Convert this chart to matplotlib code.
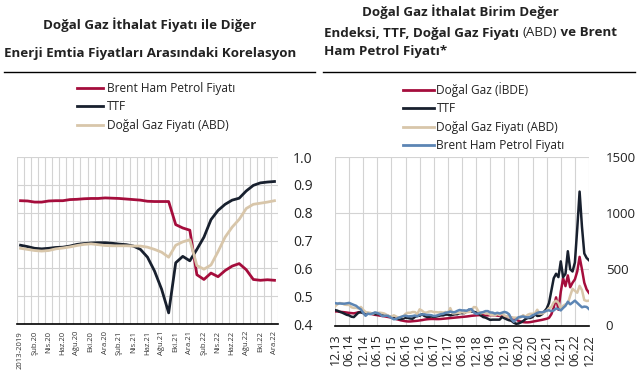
"""
Doğal gaz ithalat fiyatı - korelasyon ve endeks grafikleri
"""

import numpy as np
import matplotlib
matplotlib.use("Agg")
import matplotlib.pyplot as plt
from matplotlib.lines import Line2D
from matplotlib.ticker import FormatStrFormatter

plt.rcParams['font.family'] = ['Open Sans', 'DejaVu Sans']

# ---- left panel data (korelasyon) ----
left_categories = ['2013-2019',
                   'Oca.20', 'Şub.20', 'Mar.20', 'Nis.20', 'May.20', 'Haz.20',
                   'Tem.20', 'Ağu.20', 'Eyl.20', 'Eki.20', 'Kas.20', 'Ara.20',
                   'Oca.21', 'Şub.21', 'Mar.21', 'Nis.21', 'May.21', 'Haz.21',
                   'Tem.21', 'Ağu.21', 'Eyl.21', 'Eki.21', 'Kas.21', 'Ara.21',
                   'Oca.22', 'Şub.22', 'Mar.22', 'Nis.22', 'May.22', 'Haz.22',
                   'Tem.22', 'Ağu.22', 'Eyl.22', 'Eki.22', 'Kas.22', 'Ara.22']
corr_brent = [0.843, 0.842, 0.838, 0.838, 0.842, 0.843, 0.843, 0.847, 0.848,
              0.850, 0.851, 0.851, 0.853, 0.852, 0.851, 0.849, 0.847, 0.845,
              0.841, 0.840, 0.840, 0.840, 0.757, 0.745, 0.737, 0.577, 0.560,
              0.583, 0.570, 0.592, 0.608, 0.617, 0.595, 0.560, 0.557, 0.559,
              0.557]
corr_ttf = [0.683, 0.678, 0.672, 0.670, 0.672, 0.675, 0.676, 0.680, 0.686,
            0.689, 0.691, 0.692, 0.692, 0.690, 0.687, 0.685, 0.680, 0.668,
            0.640, 0.590, 0.525, 0.440, 0.620, 0.643, 0.627, 0.668, 0.712,
            0.775, 0.808, 0.830, 0.845, 0.852, 0.878, 0.898, 0.907, 0.910,
            0.912]
corr_usgas = [0.672, 0.668, 0.664, 0.662, 0.664, 0.670, 0.673, 0.677, 0.682,
              0.686, 0.688, 0.685, 0.682, 0.681, 0.681, 0.681, 0.680, 0.680,
              0.676, 0.668, 0.658, 0.640, 0.683, 0.695, 0.703, 0.610, 0.597,
              0.612, 0.660, 0.712, 0.748, 0.776, 0.815, 0.830, 0.834, 0.838,
              0.843]

# ---- right panel data (endeks, aylık 12.13 - 12.22) ----
right_ticklabels = ['12.13', '06.14', '12.14', '06.15', '12.15', '06.16',
                    '12.16', '06.17', '12.17', '06.18', '12.18', '06.19',
                    '12.19', '06.20', '12.20', '06.21', '12.21', '06.22',
                    '12.22']
gas_import = [125,
              125, 122, 120, 118, 115, 112, 110, 108, 112, 118, 120, 118,
              112, 110, 105, 100, 95, 92, 88, 85, 82, 78, 74, 70,
              65, 58, 52, 46, 42, 38, 36, 36, 38, 40, 42, 45,
              48, 52, 55, 57, 58, 58, 57, 57, 58, 60, 62, 64,
              66, 68, 70, 72, 74, 76, 78, 80, 83, 86, 88, 90,
              92, 92, 90, 90, 90, 92, 92, 90, 88, 85, 82, 80,
              78, 75, 70, 62, 52, 42, 35, 30, 28, 28, 30, 34,
              38, 42, 46, 50, 55, 60, 68, 100, 160, 250, 140, 300,
              420, 350, 445, 340, 380, 410, 480, 610, 500, 380, 320, 290]
ttf = [137,
       132, 122, 115, 105, 95, 90, 78, 75, 95, 115, 118, 110,
       102, 110, 107, 105, 102, 102, 102, 97, 95, 90, 82, 75,
       65, 59, 60, 57, 62, 70, 67, 62, 60, 77, 85, 87,
       100, 85, 77, 77, 80, 77, 80, 85, 90, 90, 97, 97,
       90, 95, 100, 100, 110, 110, 110, 125, 140, 125, 122, 115,
       105, 90, 75, 70, 60, 50, 52, 52, 52, 52, 75, 65,
       55, 47, 42, 25, 15, 18, 27, 40, 57, 67, 67, 75,
       100, 85, 87, 100, 125, 150, 200, 310, 420, 460, 430, 570,
       430, 460, 660, 500, 480, 560, 860, 1190, 880, 640, 600, 580]
us_gas = [170,
          188, 200, 196, 186, 183, 184, 162, 156, 157, 151, 165, 139,
          120, 115, 113, 104, 114, 111, 114, 111, 106, 94, 84, 77,
          91, 80, 69, 77, 77, 104, 113, 113, 120, 119, 102, 144,
          132, 114, 115, 124, 126, 119, 119, 116, 119, 115, 120, 113,
          155, 107, 108, 112, 112, 119, 113, 118, 120, 131, 164, 162,
          124, 108, 118, 106, 106, 96, 95, 89, 102, 93, 106, 89,
          81, 76, 72, 70, 70, 65, 71, 92, 77, 96, 104, 104,
          108, 140, 105, 106, 116, 130, 154, 163, 206, 220, 202, 150,
          175, 188, 196, 264, 326, 308, 291, 352, 315, 226, 218, 221]
brent = [199,
         195, 196, 194, 194, 197, 201, 192, 183, 175, 157, 143, 112,
         86, 105, 101, 107, 116, 111, 102, 84, 86, 87, 80, 68,
         55, 58, 69, 75, 84, 87, 81, 82, 84, 89, 81, 96,
         98, 99, 93, 94, 91, 84, 87, 93, 101, 104, 113, 116,
         124, 118, 119, 130, 138, 134, 134, 131, 142, 146, 117, 103,
         107, 115, 119, 128, 128, 116, 115, 106, 113, 107, 114, 121,
         115, 100, 58, 33, 53, 73, 78, 80, 74, 72, 77, 90,
         99, 112, 118, 117, 123, 132, 135, 127, 134, 151, 146, 134,
         156, 175, 211, 188, 204, 221, 201, 181, 162, 168, 165, 146]

RED = '#A50D3C'
NAVY = '#18202E'
BEIGE = '#D8C6AA'
BLUE = '#5C85B4'
GRID = '#D3D3D3'
TXT = '#222222'

W, H = 641, 380
fig = plt.figure(figsize=(W / 100, H / 100), dpi=100)


def fx(px):
    return px / W


def fy(py):
    return 1 - py / H


TITLE_FS = 9.6

# ---------------- titles ----------------
fig.text(fx(150), fy(25), 'Doğal Gaz İthalat Fiyatı ile Diğer', ha='center',
         va='center', fontsize=TITLE_FS, fontweight='bold', color=TXT)
fig.text(fx(150), fy(53), 'Enerji Emtia Fiyatları Arasındaki Korelasyon',
         ha='center', va='center', fontsize=TITLE_FS, fontweight='bold', color=TXT)
fig.add_artist(Line2D([fx(4), fx(315)], [fy(72), fy(72)], color='black', lw=1))

fig.text(fx(460), fy(12), 'Doğal Gaz İthalat Birim Değer', ha='center',
         va='center', fontsize=TITLE_FS, fontweight='bold', color=TXT)
renderer = fig.canvas.get_renderer()
x_px = 324
for part, weight in [('Endeksi, TTF, Doğal Gaz Fiyatı ', 'bold'),
                     ('(ABD)', 'normal'), (' ve Brent', 'bold')]:
    t = fig.text(fx(x_px), fy(33), part, ha='left', va='center', fontsize=TITLE_FS,
                 fontweight=weight, color=TXT)
    x_px = t.get_window_extent(renderer).x1
fig.text(fx(324), fy(52), 'Ham Petrol Fiyatı*', ha='left', va='center',
         fontsize=TITLE_FS, fontweight='bold', color=TXT)
fig.add_artist(Line2D([fx(323), fx(635)], [fy(72), fy(72)], color='black', lw=1))

# ---------------- left chart ----------------
ax1 = fig.add_axes([fx(17), fy(324), fx(261), (324 - 157) / H])
x1 = np.arange(len(left_categories))
ax1.plot(x1, corr_brent, color=RED, lw=2.0, solid_joinstyle='round')
ax1.plot(x1, corr_ttf, color=NAVY, lw=2.0, solid_joinstyle='round')
ax1.plot(x1, corr_usgas, color=BEIGE, lw=2.0, solid_joinstyle='round')
ax1.set_xlim(-0.5, len(left_categories) - 0.5)
ax1.set_ylim(0.4, 1.0)
ax1.set_xticks(x1[::2])
ax1.set_xticklabels(left_categories[::2], rotation=90, fontsize=5.5,
                    color='#333333')
ax1.set_xticks(np.arange(-0.5, len(left_categories)), minor=True)
ax1.set_yticks(np.arange(0.4, 1.01, 0.1))
ax1.yaxis.set_major_formatter(FormatStrFormatter('%.1f'))
ax1.yaxis.tick_right()
ax1.tick_params(axis='y', length=0, pad=11, labelsize=10, labelcolor=TXT)
ax1.tick_params(axis='x', which='both', length=0, pad=5)
ax1.grid(True, axis='x', which='minor', color=GRID, lw=0.8)
ax1.grid(True, axis='y', which='major', color=GRID, lw=0.8)
ax1.set_axisbelow(True)
for s in ['top', 'left', 'right']:
    ax1.spines[s].set_visible(False)
ax1.spines['bottom'].set_color('black')
ax1.spines['bottom'].set_linewidth(1.2)

fig.legend(handles=[Line2D([], [], color=RED, lw=2.0),
                    Line2D([], [], color=NAVY, lw=2.0),
                    Line2D([], [], color=BEIGE, lw=2.0)],
           labels=['Brent Ham Petrol Fiyatı', 'TTF', 'Doğal Gaz Fiyatı (ABD)'],
           loc='upper left', bbox_to_anchor=(fx(77), fy(82)), frameon=False,
           borderaxespad=0, borderpad=0, fontsize=8.6, handlelength=2.2,
           handletextpad=0.3, labelspacing=0.45, labelcolor=TXT)

# ---------------- right chart ----------------
ax2 = fig.add_axes([fx(335), fy(325.5), fx(254), (325.5 - 156.7) / H])
x2 = np.arange(len(ttf))
ax2.plot(x2, gas_import, color=RED, lw=1.8)
ax2.plot(x2, ttf, color=NAVY, lw=1.8)
ax2.plot(x2, us_gas, color=BEIGE, lw=1.8)
ax2.plot(x2, brent, color=BLUE, lw=1.8)
ax2.set_xlim(0, len(ttf) - 1)
ax2.set_ylim(0, 1500)
ax2.set_xticks(np.arange(0, len(ttf), 6))
ax2.set_xticklabels(right_ticklabels, rotation=90, fontsize=9, color=TXT)
ax2.set_yticks([0, 500, 1000, 1500])
ax2.yaxis.tick_right()
ax2.tick_params(axis='y', length=0, pad=12, labelsize=9.5, labelcolor=TXT)
ax2.tick_params(axis='x', length=0, pad=6)
ax2.grid(True, color=GRID, lw=0.8)
ax2.set_axisbelow(True)
for s in ['top', 'left', 'right']:
    ax2.spines[s].set_visible(False)
ax2.spines['bottom'].set_color('black')
ax2.spines['bottom'].set_linewidth(1.2)

fig.legend(handles=[Line2D([], [], color=RED, lw=2.0),
                    Line2D([], [], color=NAVY, lw=2.0),
                    Line2D([], [], color=BEIGE, lw=2.0),
                    Line2D([], [], color=BLUE, lw=2.0)],
           labels=['Doğal Gaz (İBDE)', 'TTF', 'Doğal Gaz Fiyatı (ABD)',
                   'Brent Ham Petrol Fiyatı'],
           loc='upper left', bbox_to_anchor=(fx(403), fy(82)), frameon=False,
           borderaxespad=0, borderpad=0, fontsize=8.6, handlelength=2.6,
           handletextpad=0.2, labelspacing=0.45, labelcolor=TXT)

fig.savefig('out.png', dpi=100)
